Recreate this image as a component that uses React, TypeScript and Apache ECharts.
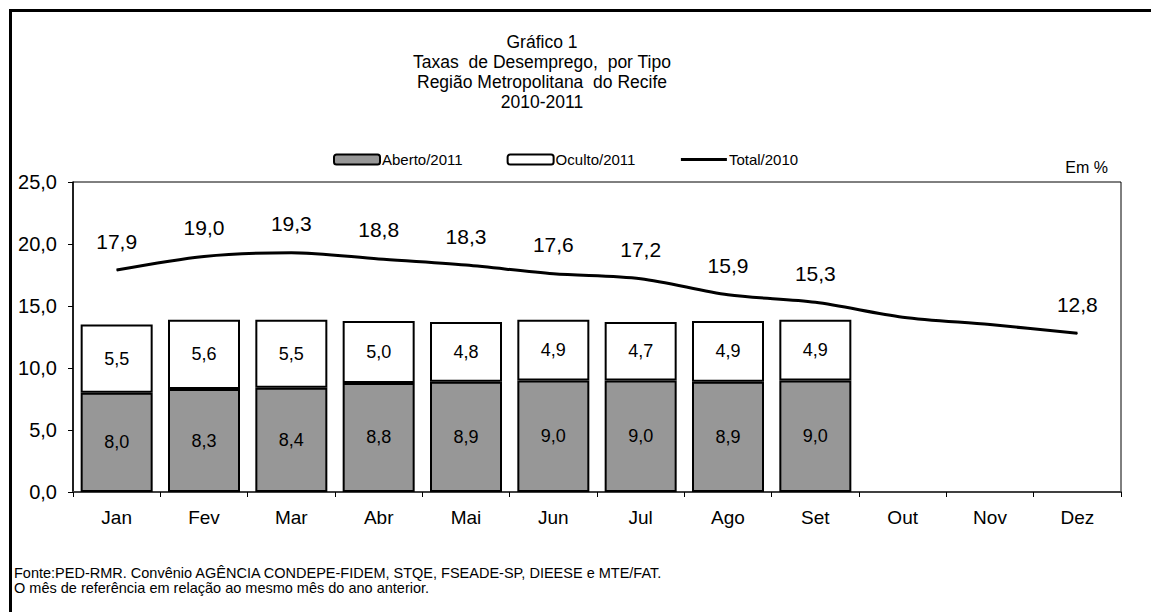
import React, { useEffect, useRef } from "react";
import * as echarts from "echarts";

const months = ["Jan", "Fev", "Mar", "Abr", "Mai", "Jun", "Jul", "Ago", "Set", "Out", "Nov", "Dez"];
const aberto2011 = [8.0, 8.3, 8.4, 8.8, 8.9, 9.0, 9.0, 8.9, 9.0, null, null, null];
const oculto2011 = [5.5, 5.6, 5.5, 5.0, 4.8, 4.9, 4.7, 4.9, 4.9, null, null, null];
const total2010 = [17.9, 19.0, 19.3, 18.8, 18.3, 17.6, 17.2, 15.9, 15.3, 14.1, 13.5, 12.8];
const totalLabelShown = [true, true, true, true, true, true, true, true, true, false, false, true];
const titleLines = [
  "Gráfico 1",
  "Taxas  de Desemprego,  por Tipo",
  "Região Metropolitana  do Recife",
  "2010-2011",
];
const footerLines = [
  "Fonte:PED-RMR. Convênio AGÊNCIA CONDEPE-FIDEM, STQE, FSEADE-SP, DIEESE e MTE/FAT.",
  "O mês de referência em relação ao mesmo mês do ano anterior.",
];

const FONT = "'Liberation Sans', Arial, sans-serif";
const fmt = (v: number) => v.toFixed(1).replace(".", ",");

export default function App() {
  const ref = useRef<HTMLDivElement>(null);
  useEffect(() => {
    if (!ref.current) return;
    const chart = echarts.init(ref.current, undefined, { renderer: "svg" });
    chart.setOption({
      animation: false,
      backgroundColor: "#fff",
      textStyle: { fontFamily: FONT, color: "#000" },
      grid: { left: 73, right: 30, top: 182, bottom: 120, show: true, borderColor: "#000", borderWidth: 1, backgroundColor: "transparent" },
      legend: {
        left: 328,
        top: 147,
        itemWidth: 46,
        itemHeight: 10,
        itemGap: 44,
        textStyle: { fontFamily: FONT, fontSize: 15, color: "#000", padding: [0, 0, 0, -3] },
        data: [
          { name: "Aberto/2011" },
          { name: "Oculto/2011" },
          { name: "Total/2010", itemStyle: { opacity: 0 }, lineStyle: { color: "#000", width: 3 } },
        ],
      },
      xAxis: {
        type: "category",
        data: months,
        axisLine: { lineStyle: { color: "#404040", width: 2 } },
        axisTick: { show: true, length: 5, lineStyle: { color: "#000" } },
        axisLabel: { color: "#000", fontSize: 19, fontFamily: FONT, margin: 16 },
      },
      yAxis: {
        type: "value",
        min: 0,
        max: 25,
        interval: 5,
        axisLine: { show: true, lineStyle: { color: "#000", width: 1.5 } },
        axisTick: { show: true, length: 5, lineStyle: { color: "#000" } },
        splitLine: { show: false },
        axisLabel: { color: "#000", fontSize: 20, fontFamily: FONT, margin: 16, formatter: (v: number) => fmt(v) },
      },
      series: [
        {
          name: "Aberto/2011",
          type: "bar",
          stack: "t",
          barWidth: 72,
          data: aberto2011,
          itemStyle: { color: "#979797", borderColor: "#000", borderWidth: 2 },
          label: { show: true, position: "inside", color: "#000", fontSize: 18, fontFamily: FONT, formatter: (p: any) => fmt(p.value) },
        },
        {
          name: "Oculto/2011",
          type: "bar",
          stack: "t",
          barWidth: 72,
          data: oculto2011,
          itemStyle: { color: "#ffffff", borderColor: "#000", borderWidth: 2 },
          label: { show: true, position: "inside", color: "#000", fontSize: 18, fontFamily: FONT, formatter: (p: any) => fmt(p.value) },
        },
        {
          name: "Total/2010",
          type: "line",
          smooth: 0.3,
          symbol: "circle",
          symbolSize: 1,
          showSymbol: true,
          data: total2010.map((v, i) => ({ value: v, label: { show: totalLabelShown[i] } })),
          lineStyle: { color: "#000", width: 3 },
          itemStyle: { color: "#000" },
          label: { show: true, position: "top", distance: 18, color: "#000", fontSize: 21, fontFamily: FONT, formatter: (p: any) => fmt(p.value) },
        },
      ],
      graphic: [
        { type: "line", shape: { x1: 9, y1: 10.5, x2: 1151, y2: 10.5 }, style: { stroke: "#000", lineWidth: 3 } },
        { type: "line", shape: { x1: 10.5, y1: 9, x2: 10.5, y2: 612 }, style: { stroke: "#000", lineWidth: 3 } },
        ...titleLines.map((t, i) => ({
          type: "text",
          x: 542,
          y: 42 + i * 20,
          style: { text: t, fill: "#000", font: `17.5px ${FONT}`, textAlign: "center", textVerticalAlign: "middle" },
        })),
        {
          type: "text",
          x: 1108,
          y: 167,
          style: { text: "Em %", fill: "#000", font: `16px ${FONT}`, textAlign: "right", textVerticalAlign: "middle" },
        },
        ...footerLines.map((t, i) => ({
          type: "text",
          x: 14,
          y: 573 + i * 15,
          style: { text: t, fill: "#000", font: `14.5px ${FONT}`, textAlign: "left", textVerticalAlign: "middle" },
        })),
      ],
    });
    return () => chart.dispose();
  }, []);
  return <div ref={ref} style={{ position: "fixed", left: 0, top: 0, width: 1151, height: 612 }} />;
}
